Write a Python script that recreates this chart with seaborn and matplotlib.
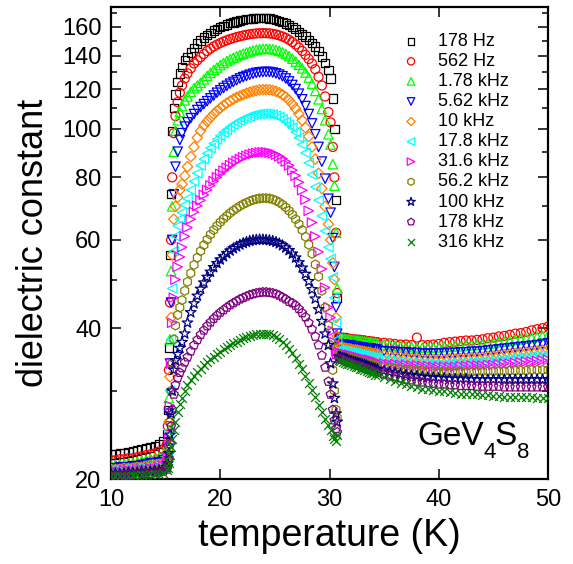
import numpy as np
import matplotlib
matplotlib.use("Agg")
import matplotlib.pyplot as plt
from matplotlib.ticker import FixedLocator, FixedFormatter, NullFormatter
import seaborn as sns

nan = np.nan

# ---------------- data ----------------
temperature = [
    10.0, 10.4, 10.8, 11.2, 11.6, 12.0, 12.4, 12.8, 13.2, 13.6, 14.0, 14.4, 14.8, 15.1,
    15.2, 15.3, 15.4, 15.5, 15.6, 15.75, 15.9, 16.1, 16.3, 16.5, 16.75,
    17.0, 17.3, 17.6, 17.9, 18.2, 18.5, 18.8, 19.1, 19.4, 19.7,
    20.0, 20.3, 20.6, 20.9, 21.2, 21.5, 21.8, 22.1, 22.4, 22.7,
    23.0, 23.3, 23.6, 23.9, 24.2, 24.5, 24.8, 25.1, 25.4, 25.7,
    26.0, 26.3, 26.6, 26.9, 27.2, 27.5, 27.8, 28.1, 28.4, 28.7,
    29.0, 29.3, 29.6, 29.9,
    30.1, 30.3, 30.45, 30.6, 30.7,
    30.85, 31.0, 31.2, 31.4, 31.6, 31.8, 32.0, 32.2, 32.4, 32.6,
    32.8, 33.0, 33.2, 33.4, 33.6, 33.8, 34.0, 34.2, 34.4,
    35.0, 35.5, 36.0, 36.5, 37.0, 37.5, 38.0, 38.5, 39.0, 39.5,
    40.0, 40.5, 41.0, 41.5, 42.0, 42.5, 43.0, 43.5, 44.0, 44.5,
    45.0, 45.5, 46.0, 46.5, 47.0, 47.5, 48.0, 48.5, 49.0, 49.5, 50.0,
]

eps_178Hz = [
    22.4, 22.4, 22.5, 22.5, 22.6, 22.7, 22.8, 22.9, 23.0, 23.1, 23.3, 23.5, 23.8, 24.6,
    27.5, 36.6, 56.0, 74.0, 99.0, 110.0, 117.0, 124.0, 129.0, 133.0, 137.0,
    139, 142, 145, 148, 150, 152, 154, 155.5, 157, 158,
    159.5, 160.5, 161.5, 162.5, 163, 163.8, 164.4, 165, 165.4, 165.8,
    166, 166.2, 166.3, 166.3, 166.2, 166, 165.6, 165, 164.3, 163.4,
    162.3, 161, 159.5, 158, 156.2, 154.3, 152.8, 150.5, 148.5, 146,
    143, 139.5, 135.5, 131,
    126, 115, 100, 72, 46,
    38.4, 38.3, 38.3, 38.2, 38.2, 38.1, 38.1, 38.0, 38.0, 37.9,
    37.8, 37.8, nan, nan, nan, nan, nan, nan, nan,
    nan, nan, nan, nan, nan, nan, nan, nan, nan, nan,
    nan, nan, nan, nan, nan, nan, nan, nan, nan, nan,
    nan, nan, nan, nan, nan, nan, nan, nan, nan, nan, nan,
]

eps_562Hz = [
    21.8, 21.8, 21.9, 21.9, 22.0, 22.0, 22.1, 22.2, 22.3, 22.4, 22.5, 22.7, 22.9, 23.4,
    25.5, 33.0, 45.0, 60.0, 80.0, 98.0, 106.0, 113.0, 118.0, 122.0, 126.0,
    129, 132, 135, 137, 139, 141, 143, 144.5, 146, 147.2,
    148.3, 149.3, 150.2, 151, 151.7, 152.4, 153, 153.5, 154, 154.4,
    154.7, 155, 155.1, 155.2, 155.1, 155, 154.7, 154.3, 153.6, 152.8,
    151.8, 150.5, 149, 147.3, 145.3, 143, 140.5, 137.8, 135, 131.5,
    127, 122, 116, 108,
    103, 92, 80, 62, 47,
    38.3, 38.3, 38.2, 38.2, 38.1, 38.1, 38.0, 38.0, 37.9, 37.9,
    37.9, 37.8, 37.8, 37.7, 37.7, 37.6, 37.6, 37.5, 37.5,
    37.4, 37.3, 37.2, 37.1, 37.1, 37.0, 38.3, 37.0, 37.0, 37.1,
    37.2, 37.4, 37.5, 37.6, 37.7, 37.8, 37.8, 37.9, 38.0, 38.2,
    38.3, 38.5, 38.6, 38.8, 39.0, 39.1, 39.3, 39.6, 39.8, 40.0, 40.3,
]

eps_1_78kHz = [
    21.3, 21.3, 21.4, 21.4, 21.5, 21.5, 21.6, 21.7, 21.8, 21.9, 22.0, 22.1, 22.3, 22.7,
    23.5, 29.0, 38.0, 52.0, 70.0, 90.0, 99.0, 104.0, 108.0, 111.0, 114.0,
    116, 118.5, 120.5, 122, 123.5, 125.5, 127.5, 129.3, 131, 132.5,
    134, 135.3, 136.5, 137.6, 138.6, 139.5, 140.4, 141.2, 142, 142.7,
    143.3, 143.8, 144.2, 144.4, 144.5, 144.4, 144.1, 143.6, 143, 142.1,
    141, 139.6, 138, 136.2, 134.2, 132, 129.5, 126.5, 123, 119,
    114.5, 109.5, 104, 97.5,
    93, 85, 77, 62, 48,
    38.2, 38.2, 38.1, 38.1, 38.0, 38.0, 37.9, 37.9, 37.8, 37.8,
    37.7, 37.7, 37.6, 37.6, 37.5, 37.5, 37.4, 37.4, 37.3,
    37.1, 37.0, 36.9, 36.8, 36.7, 36.7, 36.6, 36.6, 36.6, 36.6,
    36.6, 36.7, 36.7, 36.8, 36.8, 36.9, 37.0, 37.0, 37.1, 37.2,
    37.3, 37.5, 37.6, 37.7, 37.9, 38.0, 38.1, 38.3, 38.4, 38.6, 38.7,
]

eps_5_62kHz = [
    21.0, 21.0, 21.1, 21.1, 21.1, 21.2, 21.2, 21.3, 21.4, 21.5, 21.5, 21.6, 21.8, 22.1,
    23.0, 27.0, 34.0, 45.0, 60.0, 74.0, 84.0, 90.0, 95.0, 98.0, 101.0,
    103, 105, 107, 109, 110.5, 112, 113.5, 115, 116.5, 118,
    119.3, 120.6, 121.8, 123, 124, 125, 126, 126.8, 127.5, 128.2,
    128.8, 129.3, 129.6, 129.8, 129.9, 129.8, 129.5, 129, 128.3, 127.3,
    126, 124.3, 122.3, 120, 117.5, 114.5, 111, 107, 102.5, 97.5,
    92, 86, 79.5, 72.5,
    68, 60.5, 53, 44, 39,
    37.2, 37.1, 37.1, 37.0, 37.0, 36.9, 36.9, 36.8, 36.8, 36.7,
    36.6, 36.6, 36.5, 36.5, 36.4, 36.4, 36.3, 36.3, 36.2,
    36.0, 35.9, 35.9, 35.8, 35.8, 35.7, 35.7, 35.6, 35.6, 35.6,
    35.6, 35.6, 35.7, 35.7, 35.8, 35.8, 35.9, 35.9, 36.0, 36.1,
    36.2, 36.3, 36.4, 36.5, 36.6, 36.7, 36.8, 36.9, 37.0, 37.2, 37.3,
]

eps_10kHz = [
    20.9, 20.9, 20.9, 21.0, 21.0, 21.0, 21.1, 21.1, 21.2, 21.3, 21.3, 21.4, 21.6, 21.9,
    22.5, 26.0, 32.0, 42.0, 56.0, 66.0, 70.0, 73.0, 75.5, 77.5, 80.5,
    84, 88, 92, 96, 99, 101.5, 103.5, 105.3, 107, 108.5,
    110, 111.3, 112.5, 113.6, 114.6, 115.5, 116.3, 117, 117.7, 118.3,
    118.8, 119.2, 119.5, 119.7, 119.7, 119.6, 119.3, 118.8, 118, 117,
    115.7, 114, 112, 109.7, 107, 104, 100.5, 96.5, 92, 87,
    81.5, 76, 70, 64.5,
    60, 54, 50, 42, 38.5,
    36.7, 36.6, 36.6, 36.5, 36.4, 36.4, 36.3, 36.2, 36.2, 36.1,
    36.0, 36.0, 35.9, 35.8, 35.8, 35.7, 35.6, 35.6, 35.5,
    35.3, 35.2, 35.1, 35.0, 34.9, 34.8, 34.8, 34.7, 34.7, 34.6,
    34.6, 34.6, 34.7, 34.7, 34.8, 34.8, 34.9, 34.9, 35.0, 35.1,
    35.2, 35.3, 35.4, 35.5, 35.6, 35.7, 35.8, 35.9, 36.0, 36.1, 36.2,
]

eps_17_8kHz = [
    20.8, 20.8, 20.8, 20.9, 20.9, 20.9, 21.0, 21.0, 21.1, 21.1, 21.2, 21.3, 21.4, 21.7,
    22.3, 25.0, 30.0, 38.0, 48.0, 57.0, 61.0, 64.0, 66.0, 68.0, 70.5,
    72.5, 75.5, 78.5, 81.5, 84.5, 87, 89.3, 91.5, 93.4, 95.2,
    96.8, 98.3, 99.6, 100.8, 101.9, 102.9, 103.8, 104.6, 105.3, 105.9,
    106.4, 106.8, 107, 107.2, 107.2, 107, 106.7, 106.2, 105.5, 104.5,
    103.2, 101.9, 100.5, 98.5, 96, 93, 89.5, 85.5, 81, 76.5,
    72, 67, 62.5, 58,
    55, 50.5, 46, 41, 38,
    36.2, 36.1, 36.0, 36.0, 35.9, 35.8, 35.7, 35.7, 35.6, 35.5,
    35.4, 35.3, 35.3, 35.2, 35.1, 35.0, 35.0, 34.9, 34.8,
    34.6, 34.5, 34.4, 34.3, 34.2, 34.1, 34.1, 34.0, 34.0, 33.9,
    33.9, 33.9, 34.0, 34.0, 34.1, 34.1, 34.2, 34.2, 34.3, 34.4,
    34.4, 34.5, 34.6, 34.7, 34.8, 34.9, 35.0, 35.1, 35.2, 35.2, 35.3,
]

eps_31_6kHz = [
    20.7, 20.7, 20.7, 20.8, 20.8, 20.8, 20.9, 20.9, 20.9, 21.0, 21.0, 21.1, 21.2, 21.5,
    22.0, 24.0, 28.0, 34.0, 41.0, 46.0, 50.0, 53.0, 55.5, 58.0, 61.0,
    63.5, 66, 68.2, 70.2, 72, 73.8, 75.5, 77.1, 78.6, 80,
    81.3, 82.5, 83.6, 84.6, 85.5, 86.3, 87, 87.7, 88.3, 88.8,
    89.2, 89.5, 89.7, 89.8, 89.8, 89.6, 89.3, 88.8, 88.1, 87.2,
    86, 84.5, 82.7, 80.6, 78.2, 75.4, 72.2, 68.6, 65, 61,
    56.8, 52.5, 48.2, 44,
    42, 39.5, 37.5, 36, 35.5,
    35.8, 35.7, 35.6, 35.5, 35.4, 35.4, 35.3, 35.2, 35.1, 35.0,
    34.9, 34.8, 34.7, 34.6, 34.6, 34.5, 34.4, 34.3, 34.2,
    34.0, 33.9, 33.9, 33.8, 33.8, 33.7, 33.7, 33.6, 33.6, 33.5,
    33.5, 33.5, 33.5, 33.5, 33.6, 33.6, 33.7, 33.7, 33.7, 33.8,
    33.8, 33.9, 34.0, 34.0, 34.1, 34.2, 34.3, 34.3, 34.4, 34.5, 34.6,
]

eps_56_2kHz = [
    20.5, 20.5, 20.5, 20.6, 20.6, 20.6, 20.7, 20.7, 20.7, 20.8, 20.8, 20.9, 21.0, 21.2,
    21.6, 23.0, 26.0, 30.0, 34.0, 38.0, 40.5, 42.5, 44.0, 45.5, 47.5,
    49.5, 51.5, 53.5, 55.3, 57, 58.6, 60.1, 61.5, 62.8, 64,
    65.1, 66.1, 67, 67.9, 68.7, 69.4, 70.1, 70.7, 71.2, 71.7,
    72.1, 72.4, 72.6, 72.7, 72.7, 72.6, 72.3, 71.9, 71.3, 70.6,
    69.7, 68.6, 67.4, 66.0, 64.5, 62.8, 60.9, 58.7, 56.3, 53.6,
    50.7, 47.5, 44, 40.5,
    37, 33, 30, 27.5, 26.5,
    35.4, 35.3, 35.2, 35.1, 35.0, 34.9, 34.8, 34.7, 34.6, 34.5,
    34.4, 34.3, 34.2, 34.1, 34.0, 33.9, 33.8, 33.7, 33.6,
    33.4, 33.3, 33.2, 33.1, 33.0, 33.0, 32.9, 32.9, 32.8, 32.8,
    32.7, 32.7, 32.7, 32.7, 32.7, 32.7, 32.7, 32.8, 32.8, 32.8,
    32.8, 32.8, 32.8, 32.9, 32.9, 32.9, 32.9, 33.0, 33.0, 33.0, 33.0,
]

eps_100kHz = [
    20.5, 20.5, 20.5, 20.5, 20.6, 20.6, 20.6, 20.7, 20.7, 20.7, 20.8, 20.8, 20.9, 21.1,
    21.5, 22.5, 24.5, 27.0, 30.0, 33.0, 34.5, 35.5, 36.5, 37.5, 39.0,
    41, 43, 44.8, 46.4, 47.9, 49.3, 50.6, 51.8, 52.9, 53.9,
    54.8, 55.6, 56.4, 57.1, 57.7, 58.2, 58.7, 59.1, 59.4, 59.7,
    59.9, 60, 60.1, 60.1, 60, 59.9, 59.7, 59.4, 59, 58.5,
    57.9, 57.2, 56.3, 55.3, 54.1, 52.8, 51.3, 49.6, 47.8, 45.8,
    43.6, 41.3, 39, 37,
    34, 31, 29, 27, 26,
    35.1, 35.0, 34.9, 34.8, 34.7, 34.5, 34.4, 34.3, 34.2, 34.1,
    34.0, 33.9, 33.8, 33.7, 33.5, 33.4, 33.3, 33.2, 33.1,
    32.9, 32.7, 32.6, 32.4, 32.3, 32.2, 32.1, 32.0, 31.9, 31.9,
    31.8, 31.8, 31.7, 31.7, 31.7, 31.7, 31.6, 31.6, 31.6, 31.6,
    31.6, 31.6, 31.6, 31.6, 31.6, 31.6, 31.6, 31.6, 31.6, 31.6, 31.6,
]

eps_178kHz = [
    20.3, 20.3, 20.3, 20.4, 20.4, 20.4, 20.4, 20.5, 20.5, 20.5, 20.6, 20.6, 20.7, 20.9,
    21.2, 22.0, 23.5, 25.5, 27.5, 29.5, 30.8, 31.8, 32.6, 33.3, 34.2,
    35, 36, 37, 37.9, 38.8, 39.6, 40.4, 41.1, 41.8, 42.4,
    43, 43.5, 44, 44.5, 44.9, 45.3, 45.7, 46, 46.3, 46.6,
    46.8, 47, 47.1, 47.2, 47.2, 47.1, 47, 46.8, 46.5, 46.1,
    45.7, 45.2, 44.9, 44.4, 43.7, 42.9, 42.1, 41, 39.8, 38.5,
    37, 35.3, 33.4, 31.3,
    29.5, 27.5, 26.2, 25.2, 24.8,
    34.8, 34.7, 34.6, 34.4, 34.3, 34.2, 34.1, 33.9, 33.8, 33.7,
    33.6, 33.5, 33.3, 33.2, 33.1, 33.0, 32.8, 32.7, 32.6,
    32.4, 32.2, 32.0, 31.8, 31.6, 31.5, 31.3, 31.2, 31.1, 31.0,
    30.9, 30.9, 30.8, 30.8, 30.7, 30.7, 30.7, 30.6, 30.6, 30.6,
    30.6, 30.6, 30.5, 30.5, 30.5, 30.5, 30.5, 30.5, 30.5, 30.5, 30.5,
]

eps_316kHz = [
    20.3, 20.3, 20.3, 20.3, 20.3, 20.4, 20.4, 20.4, 20.4, 20.5, 20.5, 20.5, 20.6, 20.8,
    21.0, 21.5, 22.3, 23.2, 24.0, 25.0, 26.0, 27.2, 28.2, 29.0, 30.0,
    30.8, 31.5, 32.1, 32.7, 33.2, 33.7, 34.2, 34.7, 35.1, 35.5,
    35.9, 36.3, 36.6, 37, 37.3, 37.6, 37.9, 38.2, 38.4, 38.6,
    38.8, 38.9, 39, 39, 39, 38.9, 38.7, 38.4, 38, 37.5,
    37, 36.4, 35.7, 34.9, 34, 33.1, 32.1, 31.1, 30.1, 29.1,
    28.1, 27.2, 26.4, 25.6,
    25, 24.4, 24, 23.8, 24.5,
    34.5, 34.4, 34.2, 34.1, 34.0, 33.9, 33.7, 33.6, 33.5, 33.4,
    33.2, 33.1, 33.0, 32.8, 32.7, 32.6, 32.5, 32.3, 32.2,
    32.0, 31.7, 31.4, 31.1, 30.9, 30.7, 30.5, 30.3, 30.2, 30.1,
    30.0, 29.9, 29.8, 29.7, 29.6, 29.6, 29.5, 29.5, 29.4, 29.4,
    29.3, 29.3, 29.2, 29.2, 29.2, 29.1, 29.1, 29.1, 29.0, 29.0, 29.0,
]

series_labels = ["178 Hz", "562 Hz", "1.78 kHz", "5.62 kHz", "10 kHz", "17.8 kHz",
                 "31.6 kHz", "56.2 kHz", "100 kHz", "178 kHz", "316 kHz"]
series_values = [eps_178Hz, eps_562Hz, eps_1_78kHz, eps_5_62kHz, eps_10kHz, eps_17_8kHz,
                 eps_31_6kHz, eps_56_2kHz, eps_100kHz, eps_178kHz, eps_316kHz]
series_colors = ["#000000", "#FF0000", "#00FF00", "#0000FF", "#FF8000", "#00FFFF",
                 "#FF00FF", "#808000", "#000080", "#800080", "#008000"]
series_markers = ["s", "o", "^", "v", "D", "<", ">", "h", "*", "p", "x"]
marker_sizes = [36, 42, 46, 46, 28, 46, 46, 42, 64, 44, 40]

y_major = [20, 40, 60, 80, 100, 120, 140, 160]
y_minor = [30, 50, 70, 90, 110, 130, 150, 170]
x_major = [10, 20, 30, 40, 50]

# ---------------- style ----------------
sns.set_style("ticks")
plt.rcParams["font.family"] = ["Liberation Sans", "DejaVu Sans"]
plt.rcParams["mathtext.default"] = "regular"
for key in ["text.color", "axes.labelcolor", "xtick.color", "ytick.color",
            "axes.edgecolor"]:
    plt.rcParams[key] = "black"

fig = plt.figure(figsize=(5.73, 5.64), dpi=100)
ax = fig.add_axes([111 / 573, 1 - 479 / 564, (548 - 111) / 573, (479 - 7) / 564])

for lab, vals, col, mk, sz in zip(series_labels, series_values, series_colors,
                                   series_markers, marker_sizes):
    if mk == "x":
        sns.scatterplot(x=temperature, y=vals, marker=mk, color=col, edgecolor=None,
                        s=sz, linewidth=0.9, ax=ax, label=lab, zorder=3)
    else:
        sns.scatterplot(x=temperature, y=vals, marker=mk, facecolor="none",
                        edgecolor=col, s=sz, linewidth=0.9, ax=ax, label=lab, zorder=3)

ax.set_yscale("log")
ax.set_xlim(10, 50)
ax.set_ylim(20, 175)
ax.xaxis.set_major_locator(FixedLocator(x_major))
ax.yaxis.set_major_locator(FixedLocator(y_major))
ax.yaxis.set_major_formatter(FixedFormatter([str(v) for v in y_major]))
ax.yaxis.set_minor_locator(FixedLocator(y_minor))
ax.yaxis.set_minor_formatter(NullFormatter())

ax.tick_params(which="both", direction="in", top=True, right=True, width=1.1,
               colors="black")
ax.tick_params(which="major", length=7, labelsize=17, pad=7)
ax.tick_params(which="minor", length=4)
for sp in ax.spines.values():
    sp.set_linewidth(1.6)
    sp.set_color("black")

ax.set_xlabel("temperature (K)", fontsize=27, labelpad=5, color="black")
ax.set_ylabel("dielectric constant", fontsize=26, color="black")
ax.yaxis.set_label_coords(-0.138, 0.5)

# compound label GeV4S8 with large, low subscripts
fig.text(417 / 573, 1 - 445 / 564, "GeV", fontsize=24, va="baseline", ha="left")
fig.text(484 / 573, 1 - 458 / 564, "4", fontsize=16, va="baseline", ha="left")
fig.text(494 / 573, 1 - 445 / 564, "S", fontsize=24, va="baseline", ha="left")
fig.text(517 / 573, 1 - 458 / 564, "8", fontsize=16, va="baseline", ha="left")

leg = ax.legend(loc="upper left", bbox_to_anchor=((402 - 111) / 437, (479 - 33) / 472),
                frameon=False, fontsize=13, handlelength=1.0, handletextpad=1.0,
                labelspacing=0.17, borderpad=0, borderaxespad=0, scatterpoints=1,
                markerscale=0.8)

fig.savefig("out.png", dpi=100)
